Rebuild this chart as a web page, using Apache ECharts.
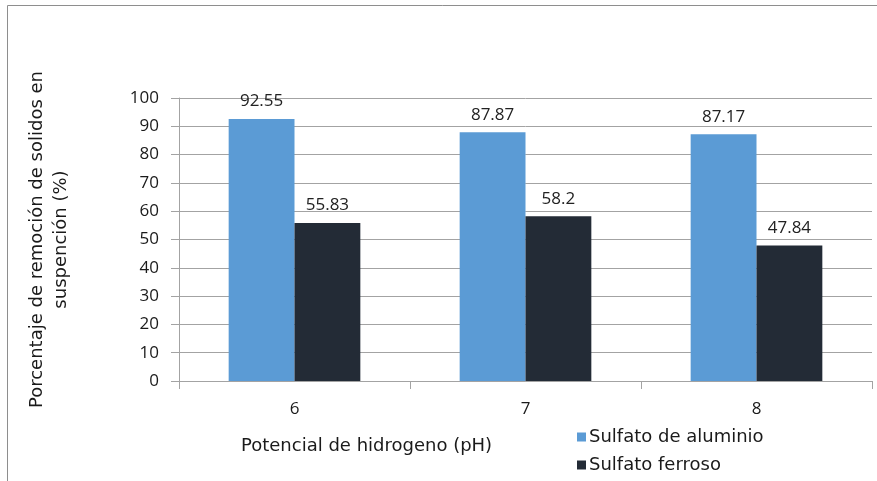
<!DOCTYPE html>
<html>
<head>
<meta charset="utf-8">
<script src="https://cdn.jsdelivr.net/npm/echarts@6/dist/echarts.min.js"></script>
<style>
  html, body { margin: 0; padding: 0; background: #ffffff; }
  #chart { width: 877px; height: 481px; }
</style>
</head>
<body>
<div id="chart"></div>
<script>
// pH levels tested and removal percentage for each coagulant
const categories = ['6', '7', '8'];
const sulfatoAluminio = [92.55, 87.87, 87.17];
const sulfatoFerroso = [55.83, 58.2, 47.84];
const yTicks = { min: 0, max: 100, interval: 10 };

const numFont = '"Open Sans", sans-serif';
const txtFont = '"DejaVu Sans", sans-serif';
const gridGray = '#a3a3a3';

const chart = echarts.init(document.getElementById('chart'), null, { renderer: 'canvas' });

const barLabel = {
  show: true,
  position: 'top',
  distance: 9,
  color: '#222222',
  fontFamily: numFont,
  fontSize: 17
};

chart.setOption({
  animation: false,
  backgroundColor: '#ffffff',
  graphic: [
    {
      type: 'polyline',
      silent: true,
      shape: { points: [[7.5, 481], [7.5, 5.5], [877, 5.5]] },
      style: { stroke: '#8e8e8e', lineWidth: 1, fill: null }
    }
  ],
  title: {
    text: 'Potencial de hidrogeno (pH)',
    left: 236,
    top: 432,
    textStyle: { fontFamily: txtFont, fontSize: 18, fontWeight: 'normal', color: '#1a1a1a' }
  },
  legend: {
    orient: 'vertical',
    left: 572,
    top: 423,
    itemWidth: 9,
    itemHeight: 9,
    itemGap: 10,
    icon: 'rect',
    textStyle: { fontFamily: txtFont, fontSize: 18, color: '#1a1a1a', padding: [0, 0, 0, -2] },
    data: ['Sulfato de aluminio', 'Sulfato ferroso']
  },
  grid: { left: 179, right: 5, top: 98, bottom: 100, containLabel: false },
  xAxis: {
    type: 'category',
    data: categories,
    axisLine: { show: true, lineStyle: { color: gridGray, width: 1 } },
    axisTick: { show: true, length: 8, lineStyle: { color: gridGray } },
    axisLabel: { margin: 20, color: '#1a1a1a', fontFamily: numFont, fontSize: 17 }
  },
  yAxis: {
    type: 'value',
    min: yTicks.min,
    max: yTicks.max,
    interval: yTicks.interval,
    name: 'Porcentaje de remoción de solidos en\nsuspención (%)',
    nameLocation: 'middle',
    nameGap: 106,
    nameTextStyle: { fontFamily: txtFont, fontSize: 18, color: '#1a1a1a', lineHeight: 24, align: 'center' },
    axisLine: { show: true, lineStyle: { color: gridGray, width: 1 } },
    axisTick: { show: true, length: 8, lineStyle: { color: gridGray } },
    axisLabel: { margin: 20, color: '#1a1a1a', fontFamily: numFont, fontSize: 17 },
    splitLine: { show: true, lineStyle: { color: gridGray, width: 1 } }
  },
  series: [
    {
      name: 'Sulfato de aluminio',
      type: 'bar',
      data: sulfatoAluminio,
      barGap: '0%',
      barCategoryGap: '43%',
      itemStyle: { color: '#5b9bd5' },
      label: barLabel
    },
    {
      name: 'Sulfato ferroso',
      type: 'bar',
      data: sulfatoFerroso,
      itemStyle: { color: '#232b36' },
      label: barLabel
    }
  ]
});
</script>
</body>
</html>
